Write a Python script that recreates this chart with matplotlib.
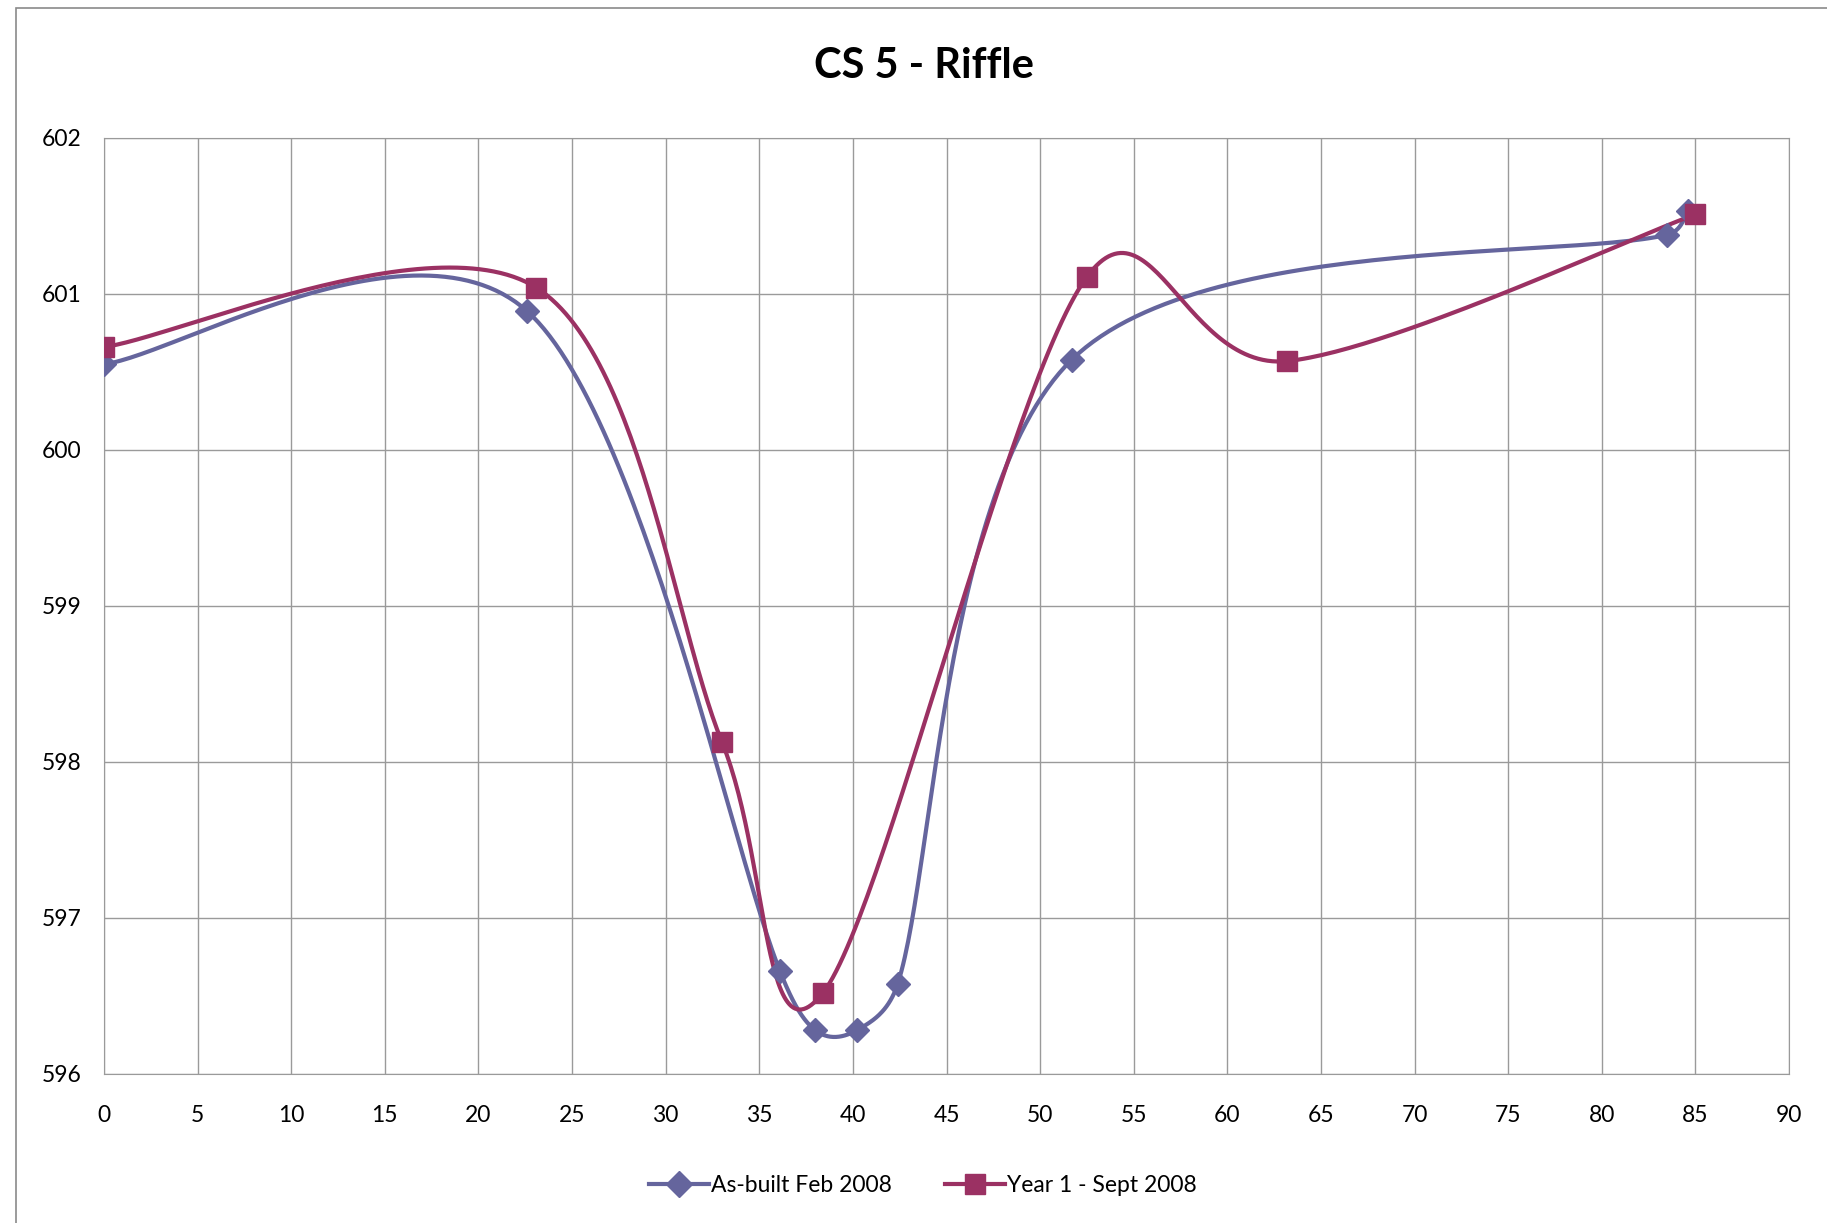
import numpy as np
import matplotlib
matplotlib.use("Agg")
import matplotlib.pyplot as plt
from matplotlib.patches import Rectangle

# data
asbuilt_x = [0, 22.6, 36.1, 38.0, 40.2, 42.4, 51.7, 83.5, 84.6]
asbuilt_y = [600.55, 600.89, 596.66, 596.28, 596.28, 596.58, 600.58, 601.38, 601.53]

year1_x = [0, 23.1, 33.0, 38.4, 52.5, 63.2, 85.0]
year1_y = [600.66, 601.04, 598.13, 596.52, 601.11, 600.57, 601.51]

x_ticks = list(range(0, 95, 5))
y_ticks = list(range(596, 603))

title = "CS 5 - Riffle"
labels = ["As-built Feb 2008", "Year 1 - Sept 2008"]
colors = ["#65659D", "#9B3163"]

# pixel size of one data unit (for smoothing in screen space)
XS = (1789 - 104) / 90.0
YS = (1074 - 138) / 6.0


def excel_smooth(xs, ys, n=60):
    # bezier smoothing like the office "smoothed line" option,
    # control arms capped at half the segment length
    p = np.column_stack([np.array(xs) * XS, np.array(ys) * YS]).astype(float)
    pts = np.vstack([p[0], p, p[-1]])
    out = [p[0]]
    t = np.linspace(0, 1, n)[1:, None]
    for i in range(1, len(pts) - 2):
        p0, p1, p2, p3 = pts[i - 1], pts[i], pts[i + 1], pts[i + 2]
        seg_len = np.hypot(*(p2 - p1))
        a1 = (p2 - p0) / 6.0
        a2 = (p3 - p1) / 6.0
        for a in (a1, a2):
            l = np.hypot(*a)
            if l > seg_len / 2 and l > 0:
                a *= (seg_len / 2) / l
        c1 = p1 + a1
        c2 = p2 - a2
        seg = ((1 - t) ** 3) * p1 + 3 * ((1 - t) ** 2) * t * c1 + 3 * (1 - t) * t ** 2 * c2 + t ** 3 * p2
        out.extend(seg)
    out = np.array(out)
    return out[:, 0] / XS, out[:, 1] / YS


plt.rcParams['font.family'] = ['Lato', 'DejaVu Sans']

fig = plt.figure(figsize=(18.27, 12.23), dpi=100)
fig.patches.append(Rectangle((16 / 1827, -0.1), 1.2, 1.1 - 8 / 1223,
                             transform=fig.transFigure, fill=False,
                             edgecolor="#8a8a8a", linewidth=1.2))
ax = fig.add_axes([104 / 1827, 1 - 1074 / 1223, (1789 - 104) / 1827, (1074 - 138) / 1223])

sx, sy = excel_smooth(asbuilt_x, asbuilt_y)
ax.plot(sx, sy, color=colors[0], lw=3.0, zorder=3)
ax.plot(asbuilt_x, asbuilt_y, ls="none", marker="D", ms=12, color=colors[0], zorder=4)

sx, sy = excel_smooth(year1_x, year1_y)
ax.plot(sx, sy, color=colors[1], lw=3.0, zorder=3)
ax.plot(year1_x, year1_y, ls="none", marker="s", ms=14, color=colors[1], zorder=5)

ax.set_xlim(0, 90)
ax.set_ylim(596, 602)
ax.set_xticks(x_ticks)
ax.set_yticks(y_ticks)
ax.grid(True, color="#9a9a9a", lw=1.0)
ax.set_axisbelow(True)
for s in ax.spines.values():
    s.set_color("#9a9a9a")
ax.tick_params(length=0, labelsize=16.5)
ax.tick_params(axis="x", pad=22)
ax.tick_params(axis="y", pad=16)

fig.text(924 / 1827, 1 - 66 / 1223, title, ha="center", va="center",
         fontsize=30, fontweight="bold")

h1, = ax.plot([], [], color=colors[0], lw=3.0, marker="D", ms=13)
h2, = ax.plot([], [], color=colors[1], lw=3.0, marker="s", ms=15)
fig.legend([h1, h2], labels, loc="center", bbox_to_anchor=(923 / 1827, 1 - 1186 / 1223),
           ncol=2, frameon=False, fontsize=16.5, handlelength=2.6, columnspacing=2.3,
           handletextpad=0.1)

fig.savefig("out.png", dpi=100)
